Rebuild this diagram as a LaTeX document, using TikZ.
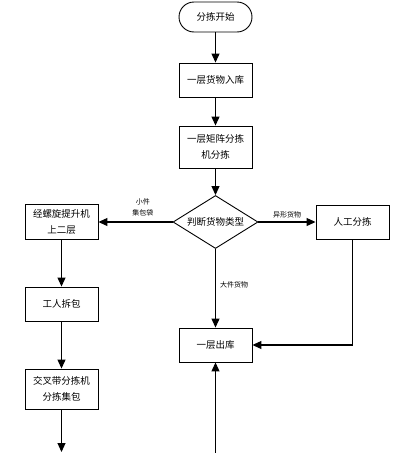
\documentclass[tikz,border=0pt]{standalone}
\usepackage{fontspec}
\setmainfont{Noto Sans CJK SC}
\usetikzlibrary{shapes.geometric, arrows.meta, positioning}

\begin{document}
\begin{tikzpicture} [x=1pt, y=-1pt, node distance = 60pt, on grid,
  box/.style = {draw, line width=0.9pt, minimum width=73pt, minimum height=34pt,
    align=center, font=\fontsize{9.5}{16}\selectfont},
  flow/.style = {-{Triangle[length=9pt, width=8pt]}, line width=1.1pt},
  tag/.style = {font=\fontsize{7}{11}\selectfont, align=center, inner sep=1pt}]

\useasboundingbox (0,0) rectangle (401,453);

\node (start) [box, rounded corners=15pt, minimum height=30pt] at (215.5,17) {分拣开始};
\node (in) [box, below = 63pt of start] {一层货物入库};
\node (matrix) [box, minimum height=42pt, below = 67pt of in] {一层矩阵分拣\\机分拣};
\node (judge) [draw, diamond, line width=0.9pt, inner sep=0pt, aspect=1.6,
  minimum width=85pt, minimum height=53pt, font=\fontsize{9.5}{16}\selectfont,
  below = 75pt of matrix] {判断货物类型};

% small parcels
\node (lift) [box, minimum height=35pt, left = 154pt of judge] {经螺旋提升机\\上二层};
\node (unpack) [box, below = 82pt of lift] {工人拆包};
\node (cross) [box, minimum height=40pt, below = 85pt of unpack] {交叉带分拣机\\分拣集包};
\coordinate (endL) at (cross |- 0,452);

% odd shapes
\node (manual) [box, right = 137pt of judge] {人工分拣};

% large goods
\node (out) [box, below = 123pt of judge] {一层出库};
\coordinate (endR) at (out |- 0,453);

\path [flow]
  (start) edge (in)
  (in) edge (matrix)
  (matrix) edge (judge);

\draw [flow] (judge) -- node [tag, above = 4pt, pos=0.4] {小件\\集包袋} (lift);
\draw [flow] (judge) -- node [tag, above = 2pt] {异形货物} (manual);
\draw [flow] (judge) -- node [tag, right = 3pt, pos=0.45] {大件货物} (out);

\draw [flow] (lift) -- (unpack);
\draw [flow] (unpack) -- (cross);
\draw [flow] (cross) -- (endL);

\draw [flow] (manual) |- (out);
\draw [flow] (endR) -- (out);
\end{tikzpicture}
\end{document}
